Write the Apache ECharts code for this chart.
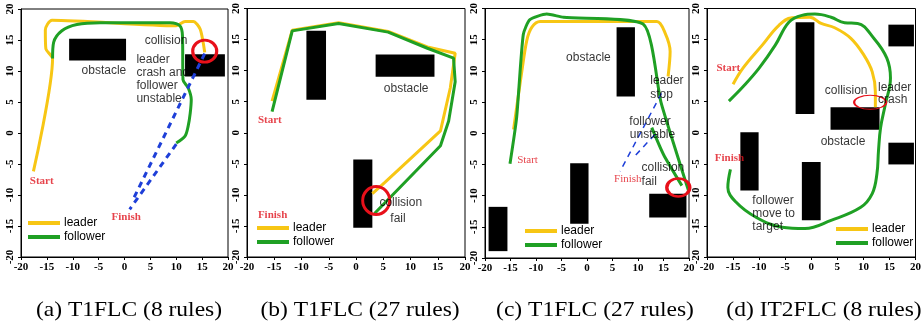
<!DOCTYPE html>
<html>
<head>
<meta charset="utf-8">
<script src="https://cdn.jsdelivr.net/npm/echarts@6/dist/echarts.min.js"></script>
<style>
  html, body { margin: 0; padding: 0; background: #fff; }
  #chart { width: 924px; height: 328px; }
</style>
</head>
<body>
<div id="chart"></div>
<script>
// ---- data (axis units) ----
var captions = ['(a) T1FLC (8 rules)', '(b) T1FLC (27 rules)', '(c) T1FLC (27 rules)', '(d) IT2FLC (8 rules)'];
var captionX = [129, 360, 595, 824];

// (a)
var leaderA = [[-17.6, -6.2], [-13.9, 12.0], [-15.2, 13.6], [-15.3, 16.6], [-14.0, 18.2], [10.0, 17.3], [11.7, 18.0], [13.3, 18.0], [14.6, 16.8], [15.2, 14.6], [15.5, 13.0]];
var followerA = [[-13.9, 12.0], [-13.7, 14.6], [-12.1, 16.5], [-9.2, 17.5], [-4.7, 17.8], [8.8, 17.8], [10.7, 17.3], [11.2, 15.7], [11.3, 8.6], [12.3, 7.3], [12.9, 5.4], [12.7, 3.2], [12.3, 1.1], [11.7, -0.5], [10.0, -1.6]];
var dashA = [[[15.5, 12.8], [1.5, -11.0]], [[10.0, -1.8], [1.0, -12.3]]];
var obstaclesA = [[-10.7, 15.2, 0.3, 11.7], [11.7, 12.7, 19.4, 9.1]];
var circlesA = [[15.5, 13.2, 24, 22, 3]];
var notesA = [[3.9, 14.9, 'collision'], [-8.3, 10.0, 'obstacle'], [2.3, 11.9, 'leader'], [2.3, 9.7, 'crash and'], [2.3, 7.6, 'follower'], [2.3, 5.5, 'unstable']];
var marksA = [[-18.3, -7.8, 'Start'], [-2.5, -13.5, 'Finish']];

// (b)
var leaderB = [[-15.4, 5.1], [-11.7, 16.5], [-3.2, 17.7], [5.9, 16.3], [13.1, 13.8], [18.2, 12.8], [17.3, 7.2], [15.5, 0.3], [5.3, -8.0], [3.0, -9.8]];
var followerB = [[-15.4, 3.4], [-11.7, 16.4], [-3.2, 17.6], [5.9, 16.2], [13.1, 13.6], [17.9, 12.0], [18.2, 8.2], [17.0, 1.9], [15.5, -2.1], [3.4, -13.0]];
var obstaclesB = [[-9.1, 16.4, -5.5, 5.3], [3.6, 12.6, 14.4, 9.0], [-0.5, -4.3, 3.0, -15.3]];
var circlesB = [[3.7, -10.9, 27, 28, 3]];
var notesB = [[5.1, 7.1, 'obstacle'], [4.3, -11.2, 'collision'], [6.3, -13.8, 'fail']];
var marksB = [[-18.0, 2.0, 'Start'], [-18.0, -13.3, 'Finish']];

// (c)
var leaderC = [[-14.4, 0.6], [-12.8, 9.8], [-11.8, 14.9], [-10.8, 17.0], [-9.2, 17.9], [13.7, 17.9], [15.3, 16.1], [16.3, 13.1], [15.9, 9.1]];
var followerC = [[-15.1, -4.9], [-13.8, 2.5], [-12.5, 15.8], [-11.2, 18.2], [-7.9, 19.1], [-4.6, 18.6], [11.0, 17.5], [14.5, 5.0], [17.5, -3.0], [19.9, -9.2]];
var followerC2 = [[12.7, 0.9], [15.0, -3.4], [18.6, -8.4]];
var dashC = [[[14.6, 6.4], [6.5, -6.1]], [[13.3, -0.2], [9.1, -3.9]]];
var obstaclesC = [[5.8, 17.0, 9.4, 5.9], [-3.3, -4.8, 0.3, -14.5], [-19.3, -11.8, -15.6, -18.9], [12.2, -9.7, 19.5, -13.5]];
var circlesC = [[17.9, -8.7, 23, 18, 3]];
var notesC = [[-4.1, 12.1, 'obstacle'], [12.4, 8.4, 'leader'], [12.4, 6.2, 'stop'], [8.3, 1.9, 'follower'], [8.4, -0.2, 'unstable'], [10.7, -5.5, 'collision'], [10.7, -7.8, 'fail']];
var marksC = [[-13.7, -4.3, 'Start'], [5.3, -7.4, 'Finish']];

// (d)
var leaderD = [[-15.0, 7.8], [-13.1, 10.4], [-9.4, 14.1], [-6.2, 17.3], [-3.7, 18.5], [-0.3, 18.6], [1.9, 17.6], [4.5, 16.9], [7.6, 15.2], [10.1, 12.5], [11.7, 9.8], [12.3, 6.6], [12.3, 4.1]];
var followerD = [[-15.8, 5.1], [-13.1, 7.4], [-10.0, 10.4], [-6.9, 14.1], [-4.3, 17.8], [-1.8, 18.9], [0.7, 19.1], [3.8, 18.6], [6.4, 17.7], [8.9, 17.6], [12.0, 15.2], [14.5, 12.0], [15.2, 8.8], [14.2, 4.5], [13.3, 0.8], [12.9, -2.9], [12.6, -6.6], [11.7, -9.8], [9.5, -12.0], [3.8, -14.1], [-1.2, -15.4], [-5.6, -15.2], [-10.6, -13.6], [-14.4, -11.2], [-16.0, -8.8], [-15.5, -5.9]];
var obstaclesD = [[-3.0, 17.8, 0.6, 3.0], [-13.6, 0.1, -10.1, -9.3], [3.7, 4.1, 13.1, 0.5], [-1.8, -4.7, 1.8, -14.1], [14.8, 17.4, 19.7, 13.9], [14.8, -1.6, 19.7, -5.1]];
var circlesD = [[11.3, 4.9, 32, 14, 1.5]];
var notesD = [[2.6, 6.8, 'collision'], [12.8, 7.3, 'leader'], [12.8, 5.3, 'crash'], [1.8, -1.4, 'obstacle'], [-11.3, -10.9, 'follower'], [-11.3, -13.0, 'move to'], [-11.3, -15.2, 'target']];
var marksD = [[-18.2, 10.4, 'Start'], [-18.5, -4.1, 'Finish']];

var grids = [
  { left: 21, top: 9, width: 207, height: 248 },
  { left: 247, top: 6, width: 218, height: 251 },
  { left: 485, top: 7, width: 204, height: 251 },
  { left: 707, top: 6, width: 212, height: 251 }
];
var legendPos = [[28, 217], [257, 222], [525, 225], [836, 223]];

var YELLOW = '#F7C614';
var GREEN = '#1FA024';

var chart = echarts.init(document.getElementById('chart'));

function axisBase(i) {
  return {
    type: 'value', gridIndex: i, min: -20, max: 20, interval: 5,
    axisLine: { show: true, onZero: false, lineStyle: { color: '#000', width: 1 } },
    axisTick: { show: true, length: 3, lineStyle: { color: '#000' } },
    splitLine: { show: false },
    axisLabel: { color: '#000', fontFamily: 'Liberation Serif', fontWeight: 'bold', fontSize: 11, margin: 5 }
  };
}

function lineSeries(name, data, i, color, smooth) {
  return {
    type: 'line', name: name, xAxisIndex: i, yAxisIndex: i, data: data,
    showSymbol: false, smooth: smooth, silent: true, z: name == 'leader' ? 3 : 4,
    lineStyle: { color: color, width: 3 }, itemStyle: { color: color }
  };
}

function dashSeries(seg, i, w) {
  return {
    type: 'line', xAxisIndex: i, yAxisIndex: i, data: seg, showSymbol: false, silent: true, z: 5,
    lineStyle: { color: '#1E3FD8', width: w, type: [6, 5] }
  };
}

function obstacleSeries(rects, i) {
  return {
    type: 'custom', xAxisIndex: i, yAxisIndex: i, data: rects, silent: true, z: 2,
    renderItem: function (params, api) {
      var p1 = api.coord([api.value(0), api.value(1)]);
      var p2 = api.coord([api.value(2), api.value(3)]);
      return {
        type: 'rect',
        shape: { x: Math.min(p1[0], p2[0]), y: Math.min(p1[1], p2[1]), width: Math.abs(p2[0] - p1[0]), height: Math.abs(p2[1] - p1[1]) },
        style: { fill: '#000' }
      };
    }
  };
}

function circleSeries(list, i) {
  return {
    type: 'scatter', xAxisIndex: i, yAxisIndex: i, silent: true, z: 6,
    data: list.map(function (c) {
      return {
        value: [c[0], c[1]], symbolSize: [c[2], c[3]],
        itemStyle: { color: 'rgba(0,0,0,0)', opacity: 1, borderColor: '#E8101A', borderWidth: c[4] }
      };
    })
  };
}

function textSeries(list, i, style) {
  return {
    type: 'scatter', xAxisIndex: i, yAxisIndex: i, silent: true, symbolSize: 0, z: 7,
    data: list.map(function (t) { return { value: [t[0], t[1]], name: t[2] }; }),
    label: Object.assign({ show: true, position: [0, 0], formatter: '{b}', align: 'left', verticalAlign: 'middle' }, style)
  };
}

var noteStyle = { color: '#000', fontFamily: 'Liberation Sans', fontSize: 12 };
var markStyle = { color: '#E0141E', fontFamily: 'Liberation Serif', fontWeight: 'bold', fontSize: 11 };
var markStyleC = { color: '#E0141E', fontFamily: 'Liberation Serif', fontSize: 11 };

var series = [
  obstacleSeries(obstaclesA, 0), lineSeries('leader', leaderA, 0, YELLOW, 0.25), lineSeries('follower', followerA, 0, GREEN, 0.3),
  dashSeries(dashA[0], 0, 3), dashSeries(dashA[1], 0, 3), circleSeries(circlesA, 0), textSeries(notesA, 0, noteStyle), textSeries(marksA, 0, markStyle),

  obstacleSeries(obstaclesB, 1), lineSeries('leader', leaderB, 1, YELLOW, false), lineSeries('follower', followerB, 1, GREEN, false),
  circleSeries(circlesB, 1), textSeries(notesB, 1, noteStyle), textSeries(marksB, 1, markStyle),

  obstacleSeries(obstaclesC, 2), lineSeries('leader', leaderC, 2, YELLOW, 0.3), lineSeries('follower', followerC, 2, GREEN, 0.2),
  lineSeries('follower', followerC2, 2, GREEN, 0.2),
  dashSeries(dashC[0], 2, 1.5), dashSeries(dashC[1], 2, 1.5), circleSeries(circlesC, 2), textSeries(notesC, 2, noteStyle), textSeries(marksC, 2, markStyleC),

  obstacleSeries(obstaclesD, 3), lineSeries('leader', leaderD, 3, YELLOW, 0.4), lineSeries('follower', followerD, 3, GREEN, 0.4),
  circleSeries(circlesD, 3), textSeries(notesD, 3, noteStyle), textSeries(marksD, 3, markStyle)
];

var option = {
  animation: false,
  backgroundColor: '#fff',
  grid: grids.map(function (g) {
    return Object.assign({ show: true, borderColor: '#000', borderWidth: 1, backgroundColor: '#fff' }, g);
  }),
  xAxis: grids.map(function (g, i) { return axisBase(i); }),
  yAxis: grids.map(function (g, i) {
    var a = axisBase(i);
    a.axisLabel.rotate = 90;
    return a;
  }),
  legend: legendPos.map(function (p) {
    return {
      data: ['leader', 'follower'], orient: 'vertical', left: p[0], top: p[1],
      icon: 'rect', itemWidth: 32, itemHeight: 4, itemGap: 2, padding: 0,
      selectedMode: false,
      textStyle: { color: '#000', fontFamily: 'Liberation Sans', fontSize: 12, padding: [0, 0, 0, -1] }
    };
  }),
  graphic: captions.map(function (c, i) {
    return {
      type: 'text', x: captionX[i], y: 310, scaleX: 1.12,
      style: { text: c, fill: '#000', font: '21px "Liberation Serif"', textAlign: 'center', textVerticalAlign: 'middle' }
    };
  }),
  series: series
};

chart.setOption(option);
</script>
</body>
</html>
